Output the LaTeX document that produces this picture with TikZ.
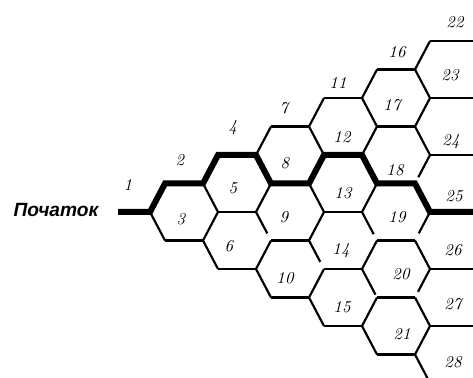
\documentclass[tikz,border=0pt]{standalone}
\usepackage{fontspec}
\newfontfamily\uafont{Liberation Sans}
\usetikzlibrary{calc}

\begin{document}
\begin{tikzpicture}[
  x=0.6pt, y=-0.6pt,
  edge/.style={line width=1.3pt, line join=round},
  route/.style={line width=3.6pt},
  num/.style={font=\itshape, inner sep=0pt},
  startlabel/.style={font=\uafont\bfseries\itshape\fontsize{11.5}{13}\selectfont, inner sep=0pt}
]
\useasboundingbox (0,0) rectangle (473,378);
\clip (0,0) rectangle (473,378);
\coordinate (east) at (473,0);
\coordinate (start) at (118,212);
% lattice points
\foreach \m in {0,...,16} {
  \foreach \n in {-6,...,6} {
    \pgfmathtruncatemacro{\colK}{floor(\m/3)}
    \pgfmathtruncatemacro{\shift}{mod(\m,3)==1 ? 15 : 0}
    \coordinate (v\m_\n) at ({150+53*\colK+\shift},{212+28.5*\n});
  }
}
% cells: column/row/how far the lower left side goes
\foreach \k/\n/\f in {0/0/1, 1/-1/1, 1/1/1, 2/-2/1, 2/0/.75, 2/2/1, 3/-3/1, 3/-1/1,
                      3/1/.75, 3/3/1, 4/-4/1, 4/-2/1, 4/0/.78, 4/2/.9, 4/4/1} {
  \pgfmathtruncatemacro{\colL}{3*\k}
  \pgfmathtruncatemacro{\colT}{3*\k+1}
  \pgfmathtruncatemacro{\colR}{3*\k+3}
  \pgfmathtruncatemacro{\rowU}{\n-1}
  \pgfmathtruncatemacro{\rowD}{\n+1}
  \draw[edge] (v\colT_\rowU) -- (v\colL_\n) -- ($(v\colL_\n)!\f!(v\colT_\rowD)$);
  \draw[edge] (v\colT_\rowU) -- (v\colR_\rowU);
}
\foreach \k in {0,...,4} {
  \pgfmathtruncatemacro{\colT}{3*\k+1}
  \pgfmathtruncatemacro{\colR}{3*\k+3}
  \pgfmathtruncatemacro{\rowD}{\k+1}
  \draw[edge] (v\colT_\rowD) -- (v\colR_\rowD);
}
\foreach \n/\f in {-4/1, -2/.78, 0/.75, 2/.8, 4/1} {
  \pgfmathtruncatemacro{\rowU}{\n-1}
  \pgfmathtruncatemacro{\rowD}{\n+1}
  \draw[edge] (v15_\rowU) -- (v16_\n) -- ($(v16_\n)!\f!(v15_\rowD)$);
}
\draw[edge] (v15_-5) -- (v16_-6);
\draw[edge] (v15_5) -- (v16_6);
\foreach \n in {-6,-4,...,4}
  \draw[edge] (v16_\n) -- (v16_\n -| east);
% best route
\draw[route] (start) -- (v0_0) -- (v1_-1) -- (v3_-1) -- (v4_-2) -- (v6_-2) -- (v7_-1)
  -- (v9_-1) -- (v10_-2) -- (v12_-2) -- (v13_-1) -- (v15_-1) -- (v16_0) -- (v16_0 -| east);

\node[startlabel] (poch) at (56,210) {Початок};
\foreach \t/\x/\y in {1/128/185, 2/180/160, 3/181/219, 4/233/128, 5/233/188, 6/229/246,
    7/284/108, 8/285/163, 9/284/217, 10/285/278, 11/338/83, 12/342/137, 13/343/193,
    14/341/251, 15/342/307, 16/397/52, 17/392/105, 18/395/170, 19/397/217, 20/401/274,
    21/402/334, 22/455/22, 23/450/75, 24/451/142, 25/454/196, 26/453/250, 27/453/304,
    28/453/362}
  \node[num] (l\t) at (\x,\y) {\t};
\end{tikzpicture}
\end{document}
